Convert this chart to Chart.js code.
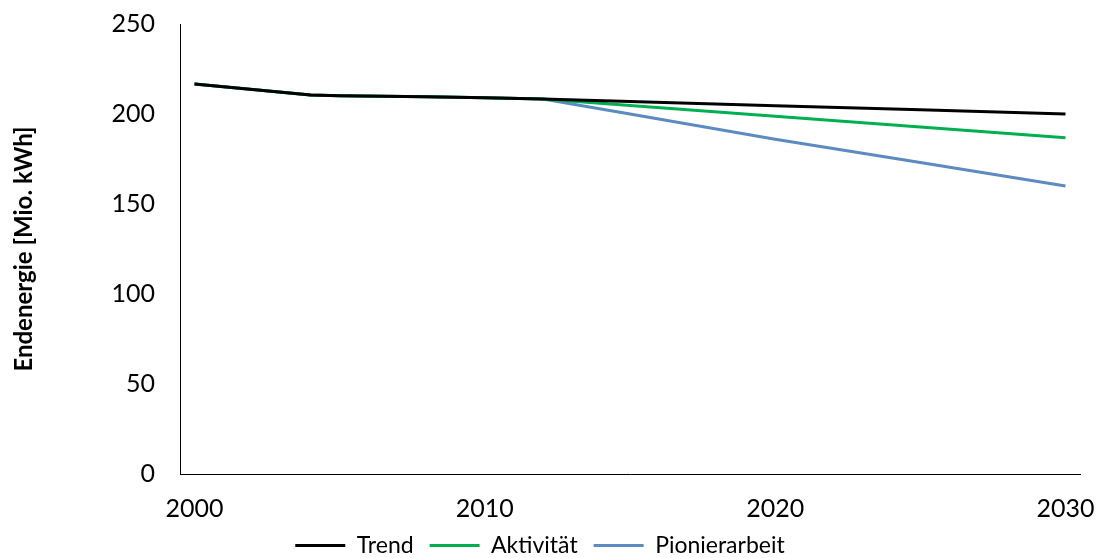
<!DOCTYPE html>
<html>
<head>
<meta charset="utf-8">
<script src="https://cdn.jsdelivr.net/npm/chart.js@4"></script>
<style>
  html, body { margin: 0; padding: 0; background: #ffffff; }
  #wrap { width: 1097px; height: 558px; }
</style>
</head>
<body>
<div id="wrap"><canvas id="chart" width="1097" height="558"></canvas></div>
<script>
const years = [];
for (let y = 2000; y <= 2030; y++) years.push(String(y));

// readings, null where no reading was made
const trendValues = [216.7, null, null, null, 210.6, 210.1, null, null, 209.6, null, 209.0, null, 208.3,
  null, null, 206.9, null, null, null, null, 204.6, null, null, null, null, 202.3, null, null, null, null, 200.0];
const aktivitaetValues = [216.7, null, null, null, 210.6, 210.1, null, null, 209.6, null, 209.0, null, 208.3,
  null, null, 204.7, null, null, null, null, 198.7, null, null, null, null, 192.8, null, null, null, null, 186.8];
const pionierValues = [216.7, null, null, null, 210.6, 210.1, null, null, 209.6, null, 209.0, null, 208.3,
  null, null, 200.0, null, null, null, null, 186.0, null, null, null, null, 173.0, null, null, null, null, 160.0];

const seriesLabels = ['Trend', 'Aktivität', 'Pionierarbeit'];
const seriesColors = ['#000000', '#00B050', '#5B8BC0'];

const font = "Lato, 'Open Sans', sans-serif";

function lineSet(label, data, color) {
  return {
    label,
    data,
    borderColor: color,
    backgroundColor: color,
    borderWidth: 3,
    pointRadius: 0,
    pointHoverRadius: 0,
    tension: 0,
    spanGaps: true
  };
}

// keep the legend strip at a fixed height, and let the x labels draw below their box
const layoutTweaks = {
  id: 'layoutTweaks',
  afterInit(chart) {
    const legend = chart.legend;
    const fit = legend.fit;
    legend.fit = function () {
      fit.call(this);
      this.height = 40;
      this.minSize && (this.minSize.height = 40);
    };
  },
  afterLayout(chart) {
    chart.scales.x.bottom += 14;
  }
};

const chart = new Chart(document.getElementById('chart').getContext('2d'), {
  type: 'line',
  data: {
    labels: years,
    datasets: [
      lineSet(seriesLabels[0], trendValues, seriesColors[0]),
      lineSet(seriesLabels[1], aktivitaetValues, seriesColors[1]),
      lineSet(seriesLabels[2], pionierValues, seriesColors[2])
    ]
  },
  options: {
    responsive: false,
    animation: false,
    layout: {
      padding: { top: 24, right: 17, left: 0, bottom: 0 }
    },
    plugins: {
      tooltip: { enabled: false },
      legend: {
        position: 'bottom',
        labels: {
          usePointStyle: true,
          pointStyle: 'line',
          pointStyleWidth: 50,
          boxWidth: 50,
          padding: 16,
          color: '#000000',
          font: { family: font, size: 23 }
        }
      }
    },
    scales: {
      x: {
        offset: true,
        grid: { display: false, drawTicks: false },
        border: { display: true, color: '#000000', width: 1 },
        ticks: {
          autoSkip: false,
          maxRotation: 0,
          padding: 20,
          color: '#000000',
          font: { family: font, size: 25 },
          callback(value, index) {
            return Number(years[index]) % 10 === 0 ? years[index] : '';
          }
        },
        afterFit(scale) {
          scale.height = 44;
          scale.paddingLeft = 0;
          scale.paddingRight = 0;
        }
      },
      y: {
        min: 0,
        max: 250,
        grid: { display: false, drawTicks: false },
        border: { display: true, color: '#000000', width: 1 },
        ticks: {
          stepSize: 50,
          padding: 25,
          color: '#000000',
          font: { family: font, size: 25 }
        },
        title: {
          display: true,
          text: 'Endenergie [Mio. kWh]',
          color: '#000000',
          padding: { top: 10, bottom: 0 },
          font: { family: font, size: 24, weight: 'bold' }
        },
        afterFit(scale) {
          scale.width = 180;
          scale.paddingTop = 0;
          scale.paddingBottom = 0;
        }
      }
    }
  },
  plugins: [layoutTweaks]
});
</script>
</body>
</html>
